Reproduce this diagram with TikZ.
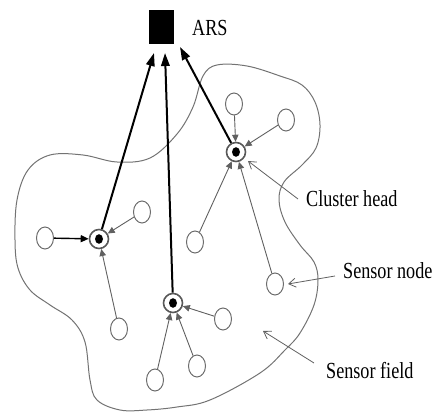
\documentclass[tikz,border=0pt]{standalone}
\usepackage{fontspec}
\setmainfont{Liberation Serif}
\usetikzlibrary{arrows.meta,shapes.geometric}
\begin{document}
\begin{tikzpicture}[x=1pt,y=-1pt,
  sensor/.style={draw=gray!85!black,line width=1pt,ellipse,minimum width=17pt,minimum height=22pt,inner sep=0pt},
  chead/.style={circle,draw=gray!70!black,line width=1.6pt,minimum size=19pt,inner sep=0pt,
     path picture={\fill[black] (path picture bounding box.center) ellipse (4pt and 4.8pt);}},
  link/.style={draw=gray!75!black,line width=0.9pt,-{Triangle[length=7pt,width=6.5pt]}},
  uplink/.style={draw=black,line width=2pt,-{Triangle[length=13pt,width=8.5pt]}},
  pointer/.style={draw=gray!75!black,line width=0.8pt,-{Straight Barb[length=7pt,width=9pt]}},
  lbl/.style={font=\fontsize{23}{23}\selectfont,xscale=0.79,inner sep=0pt}]
\useasboundingbox (0,0) rectangle (432,412);
% sensor field boundary
\draw[gray!90!black,line width=1pt] plot[smooth cycle,tension=0.6] coordinates {
 (50,155) (83,155) (117,162) (150,158) (177,134) (193,107) (203,76) (217,65) (247,66)
 (280,76) (302,85) (315,102) (320,125) (316,148) (302,165) (284,182) (279,200) (285,222)
 (300,245) (314,262) (318,280) (314,305) (300,333) (285,350) (260,373) (210,400) (177,407)
 (147,410) (120,410) (97,400) (90,380) (85,342) (72,320) (50,305) (30,290) (18,268)
 (15,240) (17,200) (28,170)};
% ARS
\node[fill=black,minimum width=25pt,minimum height=34pt,inner sep=0pt] (ars) at (161.5,27) {};
\node[lbl,anchor=west] (arstext) at (192,28) {ARS};
\coordinate (t1) at (154,53);
\coordinate (t2) at (165,53);
\coordinate (t3) at (180,47);
% cluster heads
\node[chead] (ch1) at (236,152) {};
\node[chead] (ch2) at (99,239) {};
\node[chead] (ch3) at (173,303) {};
% sensor nodes
\node[sensor] (s1) at (234,104) {};
\node[sensor] (s2) at (286,120) {};
\node[sensor] (s3) at (195,242) {};
\node[sensor] (s4) at (275,284) {};
\node[sensor] (s5) at (45,238) {};
\node[sensor] (s6) at (142,212) {};
\node[sensor] (s7) at (119,329) {};
\node[sensor] (s8) at (223,319) {};
\node[sensor] (s9) at (197,366) {};
\node[sensor] (s10) at (155,380) {};
% links
\draw[link] (s1) -- (ch1);
\draw[link] (s2) -- (ch1);
\draw[link] (s3) -- (ch1);
\draw[link] (s4) -- (ch1);
\draw[draw=black,line width=1.4pt,-{Triangle[length=8pt,width=7pt]}] (s5) -- (ch2);
\draw[link] (s6) -- (ch2);
\draw[link] (s7) -- (ch2);
\draw[link] (s8) -- (ch3);
\draw[link] (s9) -- (ch3);
\draw[link] (s10) -- (ch3);
% uplinks
\draw[uplink] (ch2) -- (t1);
\draw[uplink] (ch3) -- (t2);
\draw[uplink] (ch1) -- (t3);
% labels
\node[lbl,anchor=west] (lch) at (306,199) {Cluster head};
\node[lbl,anchor=west] (lsn) at (343,271) {Sensor node};
\node[lbl,anchor=west] (lsf) at (326,371) {Sensor field};
\coordinate (p1) at (248,161);
\coordinate (p2) at (288,284);
\coordinate (p3) at (263,331);
\draw[pointer] (lch.west) ++(-8,0) -- (p1);
\draw[pointer] (lsn.west) ++(-8,5) -- (p2);
\draw[pointer] (lsf.west) ++(-12,-8) -- (p3);
\end{tikzpicture}
\end{document}
